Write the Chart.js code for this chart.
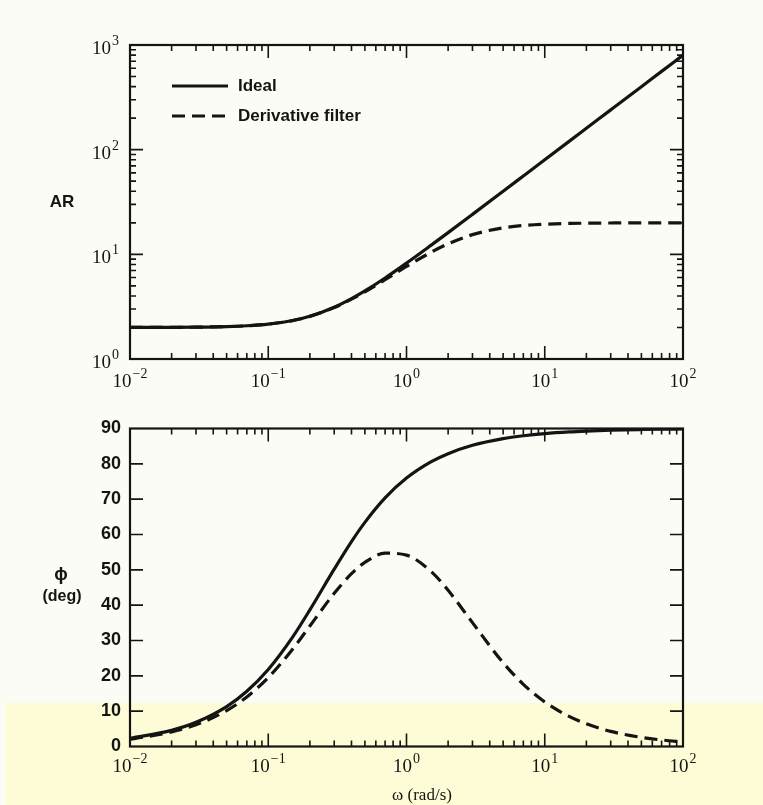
<!DOCTYPE html>
<html><head><meta charset="utf-8">
<script src="https://cdn.jsdelivr.net/npm/chart.js@4.4.1/dist/chart.umd.min.js"></script>
<style>
html,body{margin:0;padding:0;background:#fcfcf6;}
#wrap{position:relative;width:763px;height:805px;overflow:hidden;}
#band{position:absolute;left:5px;top:703px;width:758px;height:102px;background:#fdfcd6;}
#c1{position:absolute;left:0;top:0;}
#c2{position:absolute;left:0;top:400px;}
</style></head><body>
<div id="wrap"><div id="band"></div>
<canvas id="c1" width="763" height="400"></canvas>
<canvas id="c2" width="763" height="405"></canvas>
</div>
<script>
// ---- data ----
const omega       = [0.01, 0.02, 0.03, 0.05, 0.07, 0.1, 0.15, 0.2, 0.3, 0.4, 0.5, 0.7, 1, 1.5, 2, 3, 5, 7, 10, 15, 20, 30, 50, 70, 100];
const arIdeal     = [2.002, 2.006, 2.014, 2.040, 2.077, 2.154, 2.332, 2.561, 3.124, 3.774, 4.472, 5.946, 8.246, 12.17, 16.12, 24.08, 40.05, 56.04, 80.02, 120.0, 160.0, 240.0, 400.0, 560.0, 800.0];
const arFilter    = [2.002, 2.006, 2.014, 2.040, 2.076, 2.152, 2.328, 2.553, 3.102, 3.727, 4.385, 5.726, 7.656, 10.43, 12.59, 15.42, 17.91, 18.85, 19.41, 19.73, 19.85, 19.93, 19.97, 19.99, 19.99];
const phaseIdeal  = [2.29, 4.57, 6.84, 11.31, 15.64, 21.80, 30.96, 38.66, 50.19, 57.99, 63.43, 70.35, 75.96, 80.54, 82.87, 85.24, 87.14, 87.95, 88.57, 89.05, 89.28, 89.52, 89.71, 89.80, 89.86];
const phaseFilter = [2.06, 4.11, 6.15, 10.16, 14.04, 19.51, 27.53, 34.09, 43.35, 48.90, 52.12, 54.71, 54.16, 49.58, 44.21, 35.05, 23.71, 17.60, 12.61, 8.51, 6.41, 4.28, 2.57, 1.85, 1.29];

const seriesNames     = ['Ideal', 'Derivative filter'];
const xTickValues     = [0.01, 0.1, 1, 10, 100];
const xTickExponents  = ['\u22122', '\u22121', '0', '1', '2'];
const arTickValues    = [1, 10, 100, 1000];
const arTickExponents = ['0', '1', '2', '3'];
const phaseTickValues = [0, 10, 20, 30, 40, 50, 60, 70, 80, 90];

const INK = '#141414';
const serif = '"Liberation Serif", "DejaVu Serif", serif';
const sans = '"Liberation Sans", "DejaVu Sans", sans-serif';

function pts(ys){ return omega.map((w,i)=>({x:w, y:ys[i]})); }

function logMinor(minExp, maxExp){
  const out = [];
  for(let e=minExp; e<maxExp; e++){
    for(let m=1; m<=9; m++) out.push({v: m*Math.pow(10,e), major: m===1});
  }
  out.push({v: Math.pow(10,maxExp), major:true});
  return out;
}

// "10" with a raised exponent
function powLabel(ctx, exp, anchorX, baseY, align){
  const base = '19px ' + serif, sup = '14px ' + serif;
  ctx.font = base; const w1 = ctx.measureText('10').width;
  ctx.font = sup;  const w2 = ctx.measureText(exp).width;
  const total = w1 + w2 + 1;
  let x0 = align === 'right' ? anchorX - total : anchorX - total/2;
  ctx.textAlign = 'left'; ctx.textBaseline = 'alphabetic';
  ctx.font = base; ctx.fillText('10', x0, baseY);
  ctx.font = sup;  ctx.fillText(exp, x0 + w1 + 1, baseY - 9);
}

function framePlugin(cfg){
  return {
    id: 'frameTicks',
    afterDatasetsDraw(chart){
      const {ctx, chartArea:a, scales} = chart;
      const x = scales.x, y = scales.y;
      ctx.save();
      ctx.strokeStyle = INK;
      ctx.lineWidth = 1.6;
      ctx.beginPath();
      logMinor(-2, 2).forEach(t=>{
        const px = x.getPixelForValue(t.v);
        const len = t.major ? 13 : 6;
        ctx.moveTo(px, a.bottom); ctx.lineTo(px, a.bottom - len);
        ctx.moveTo(px, a.top); ctx.lineTo(px, a.top + len);
      });
      cfg.yTicks.forEach(t=>{
        const py = y.getPixelForValue(t.v);
        const len = t.major ? 13 : 6;
        ctx.moveTo(a.left, py); ctx.lineTo(a.left + len, py);
        ctx.moveTo(a.right, py); ctx.lineTo(a.right - len, py);
      });
      ctx.stroke();
      ctx.lineWidth = 2.2;
      ctx.strokeRect(a.left, a.top, a.right - a.left, a.bottom - a.top);

      ctx.fillStyle = INK;
      // x tick labels (powers of ten) placed through the x scale
      x.ticks.forEach((t,i)=>{
        powLabel(ctx, xTickExponents[i], x.getPixelForValue(t.value), a.bottom + cfg.xLabelDy, 'center');
      });
      // log y tick labels
      if(cfg.yPow){
        y.ticks.forEach((t,i)=>{
          powLabel(ctx, arTickExponents[i], a.left - 11, y.getPixelForValue(t.value) + 9, 'right');
        });
      }
      cfg.texts.forEach(t=>{
        ctx.font = t.font; ctx.textAlign = t.align || 'center'; ctx.textBaseline = 'middle';
        ctx.fillText(t.text, t.x, t.y);
      });
      if(cfg.legend){
        chart.data.datasets.forEach((ds,i)=>{
          const ly = 86 + i*30;
          ctx.beginPath();
          ctx.lineWidth = ds.borderWidth;
          ctx.setLineDash(ds.borderDash || []);
          ctx.moveTo(172, ly); ctx.lineTo(228, ly);
          ctx.stroke();
          ctx.setLineDash([]);
          ctx.font = 'bold 17px ' + sans; ctx.textAlign = 'left'; ctx.textBaseline = 'middle';
          ctx.fillText(ds.label, 238, ly);
        });
      }
      ctx.restore();
    }
  };
}

function baseOptions(yScale, yWidth, xHeight, padding){
  return {
    responsive:false, animation:false,
    layout:{padding},
    plugins:{legend:{display:false}, tooltip:{enabled:false}},
    scales:{
      x:{
        type:'logarithmic', min:0.01, max:100,
        grid:{display:false, drawTicks:false}, border:{display:false},
        afterBuildTicks(s){ s.ticks = xTickValues.map(v=>({value:v})); },
        afterFit(s){ s.height = xHeight; },
        ticks:{display:false}
      },
      y: Object.assign({
        grid:{display:false, drawTicks:false}, border:{display:false},
        afterFit(s){ s.width = yWidth; }
      }, yScale)
    }
  };
}

const dsStyle = (label, data, dashed) => ({
  label, data, borderColor:INK, borderWidth:3.2, pointRadius:0,
  cubicInterpolationMode:'monotone', borderDash: dashed ? [13,7] : [], fill:false
});

// ---- top chart: AR ----
new Chart(document.getElementById('c1'), {
  type:'line',
  data:{datasets:[dsStyle(seriesNames[0], pts(arIdeal), false), dsStyle(seriesNames[1], pts(arFilter), true)]},
  options: baseOptions({
    type:'logarithmic', min:1, max:1000,
    afterBuildTicks(s){ s.ticks = arTickValues.map(v=>({value:v})); },
    ticks:{display:false}
  }, 130, 41, {left:0, right:80, top:45, bottom:0}),
  plugins:[framePlugin({
    yTicks: logMinor(0,3),
    yPow: true,
    xLabelDy: 28,
    legend:true,
    texts:[{text:'AR', x:62, y:202, font:'bold 17px ' + sans}]
  })]
});

// ---- bottom chart: phase ----
new Chart(document.getElementById('c2'), {
  type:'line',
  data:{datasets:[dsStyle(seriesNames[0], pts(phaseIdeal), false), dsStyle(seriesNames[1], pts(phaseFilter), true)]},
  options: baseOptions({
    type:'linear', min:0, max:90,
    afterBuildTicks(s){ s.ticks = phaseTickValues.map(v=>({value:v})); },
    ticks:{autoSkip:false, padding:9, color:INK, font:{family:sans, size:18, weight:'bold'},
      callback:(v,i)=>String(phaseTickValues[i])}
  }, 130, 58.5, {left:0, right:80, top:28.5, bottom:0}),
  plugins:[framePlugin({
    yTicks: phaseTickValues.slice(1,9).map(v=>({v, major:true})),
    yPow: false,
    xLabelDy: 25,
    legend:false,
    texts:[
      {text:'\u03D5', x:61, y:175, font:'bold 18px ' + sans},
      {text:'(deg)', x:62, y:197, font:'bold 16px ' + sans},
      {text:'\u03C9 (rad/s)', x:422, y:396, font:'17px ' + serif}
    ]
  })]
});
</script>
</body></html>
